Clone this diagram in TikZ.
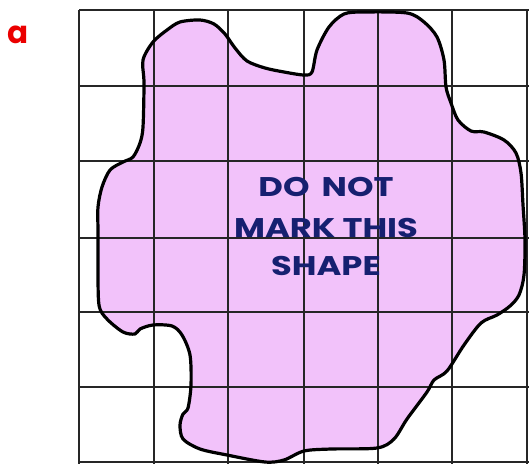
\documentclass[tikz,border=0pt]{standalone}
\usepackage{fontspec}
\newfontfamily\labelfont{Poppins}
\definecolor{shapefill}{RGB}{242,194,250}
\definecolor{textnavy}{RGB}{22,32,112}
\definecolor{labelred}{RGB}{235,0,0}
\begin{document}
\begin{tikzpicture}[x=1pt,y=-1pt,
  gridline/.style={black!85,line width=1.3pt},
  outline/.style={black,line width=3.2pt,line join=round},
  shapetext/.style={text=textnavy,font=\labelfont\bfseries\fontsize{27}{30}\selectfont,align=center,inner sep=0pt,xscale=1.25}]
\useasboundingbox (0,0) rectangle (529,464);
\fill[white] (0,0) rectangle (529,464);
\def\blobpath{plot[smooth cycle,tension=0.5] coordinates {
 (143,60) (153,42) (167,30) (180,22) (200,20) (214,24) (225,34) (235,48) (247,61) (265,68)
 (284,72) (304,75) (312,72) (317,50) (329,27) (344,14) (364,12) (407,13) (424,22) (437,37)
 (444,60) (446,87) (451,103) (458,120) (471,131) (484,132) (504,140) (516,153) (521,173)
 (523,205) (525,240) (524,275) (519,295) (510,306) (497,315) (481,323) (464,345) (447,371)
 (434,380) (427,392) (407,419) (394,439) (377,448) (331,449) (304,451) (284,460) (265,462)
 (227,455) (200,449) (183,439) (180,425) (183,414) (188,408) (191,385) (190,355) (182,335)
 (172,326) (153,325) (140,329) (135,334) (123,332) (107,319) (99,305) (98,265) (98,232)
 (98,207) (102,187) (110,170) (123,162) (133,157) (140,143) (143,127) (144,83)}}
\fill[shapefill] \blobpath;
% grid
\foreach \gx in {79,154,228,304,378,452,527} \draw[gridline] (\gx,10) -- (\gx,464);
\foreach \gy in {10,86,161,238,312,387,462} \draw[gridline] (79,\gy) -- (529,\gy);
\draw[outline] \blobpath;
\node[shapetext] (t1) at (326,187) {DO\hspace{4pt} NOT};
\node[shapetext] (t2) at (326,228) {MARK THIS};
\node[shapetext] (t3) at (326,266) {SHAPE};
\node[text=labelred,font=\labelfont\bfseries\fontsize{31}{34}\selectfont,inner sep=0pt] (lab) at (18,35) {a};
\end{tikzpicture}
\end{document}
